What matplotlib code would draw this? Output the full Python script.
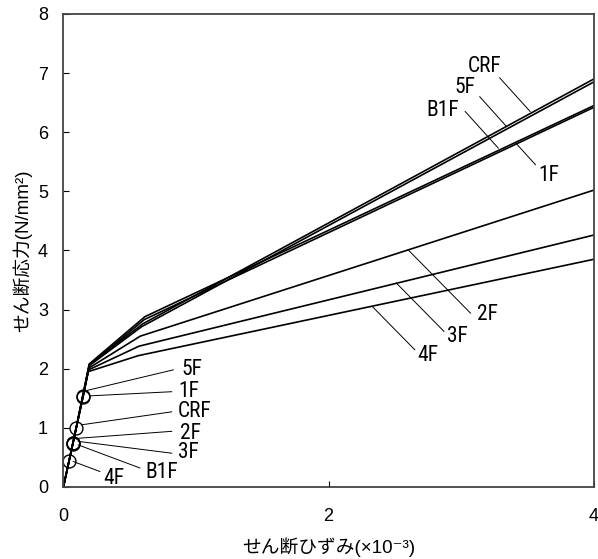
import matplotlib
matplotlib.use('Agg')
import matplotlib.pyplot as plt
import numpy as np

plt.rcParams['font.family'] = ['Liberation Sans', 'Noto Sans CJK JP', 'DejaVu Sans']

# series: crack point, yield point, second break, end point
floors = ['CRF', '5F', 'B1F', '1F', '2F', '3F', '4F']
crack_x = [0.096, 0.149, 0.072, 0.148, 0.073, 0.071, 0.042]
crack_y = [0.99, 1.53, 0.74, 1.52, 0.75, 0.73, 0.43]
yield_x = [0.195, 0.195, 0.195, 0.195, 0.192, 0.19, 0.188]
yield_y = [2.07, 2.05, 2.08, 2.06, 2.01, 1.98, 1.95]
brk_x = [0.60, 0.59, 0.615, 0.61, 0.58, 0.57, 0.565]
brk_y = [2.76, 2.71, 2.88, 2.83, 2.55, 2.38, 2.22]
end_x = [4.0, 4.0, 4.0, 4.0, 4.0, 4.0, 4.0]
end_y = [6.9, 6.85, 6.45, 6.42, 5.02, 4.26, 3.85]

fig = plt.figure(figsize=(5.98, 5.59), dpi=100)
ax = fig.add_axes([0.106, 0.129, 0.887, 0.846])

for i, name in enumerate(floors):
    xs = [0, crack_x[i], yield_x[i], brk_x[i], end_x[i]]
    ys = [0, crack_y[i], yield_y[i], brk_y[i], end_y[i]]
    ax.plot(xs, ys, color='black', lw=1.2, solid_joinstyle='miter')
    ax.plot(crack_x[i], crack_y[i], 'o', mfc='none', mec='black', ms=9.3, mew=1.0)

# labels: (text x, text y, leader start, leader end)
labels = [
    # lower group
    ('5F', 0.892, 1.98, (0.829, 1.98), (0.175, 1.63)),
    ('1F', 0.864, 1.61, (0.817, 1.61), (0.200, 1.54)),
    ('CRF', 0.862, 1.27, (0.817, 1.27), (0.137, 1.05)),
    ('2F', 0.879, 0.91, (0.817, 0.94), (0.100, 0.82)),
    ('3F', 0.864, 0.575, (0.817, 0.57), (0.112, 0.77)),
    ('B1F', 0.615, 0.25, (0.577, 0.32), (0.112, 0.71)),
    ('4F', 0.298, 0.15, (0.275, 0.26), (0.074, 0.43)),
    # upper group
    ('CRF', 3.05, 7.11, (3.29, 6.92), (3.52, 6.35)),
    ('5F', 2.95, 6.75, (3.14, 6.60), (3.34, 6.10)),
    ('B1F', 2.74, 6.36, (3.03, 6.35), (3.28, 5.73)),
    ('1F', 3.58, 5.26, (3.56, 5.45), (3.41, 5.82)),
    # middle group
    ('2F', 3.12, 2.91, (3.07, 2.94), (2.60, 4.01)),
    ('3F', 2.89, 2.54, (2.87, 2.63), (2.51, 3.45)),
    ('4F', 2.67, 2.23, (2.65, 2.32), (2.33, 3.05)),
]
lab_font = ['Roboto Condensed', 'Liberation Sans Narrow', 'Liberation Sans']
for name, tx, ty, p0, p1 in labels:
    ax.plot([p0[0], p1[0]], [p0[1], p1[1]], color='black', lw=0.7)
    ax.text(tx, ty, name, ha='left', va='center', fontsize=15.5,
            family=lab_font, fontstretch='condensed')

ax.set_xlim(0, 4)
ax.set_ylim(0, 8)
ax.set_xticks([0, 2, 4])
ax.set_yticks(range(9))
ax.tick_params(direction='in', length=4, width=0.8, labelsize=13)
ax.tick_params(axis='x', pad=15)
ax.tick_params(axis='y', pad=11)
for s in ax.spines.values():
    s.set_color('#444444')
    s.set_linewidth(1.3)

ax.set_xlabel('せん断ひずみ(×10⁻³)', fontsize=13.5, labelpad=9)
ax.set_ylabel('せん断応力(N/mm²)', fontsize=13.5, labelpad=4)

fig.savefig('out.png', dpi=100)
